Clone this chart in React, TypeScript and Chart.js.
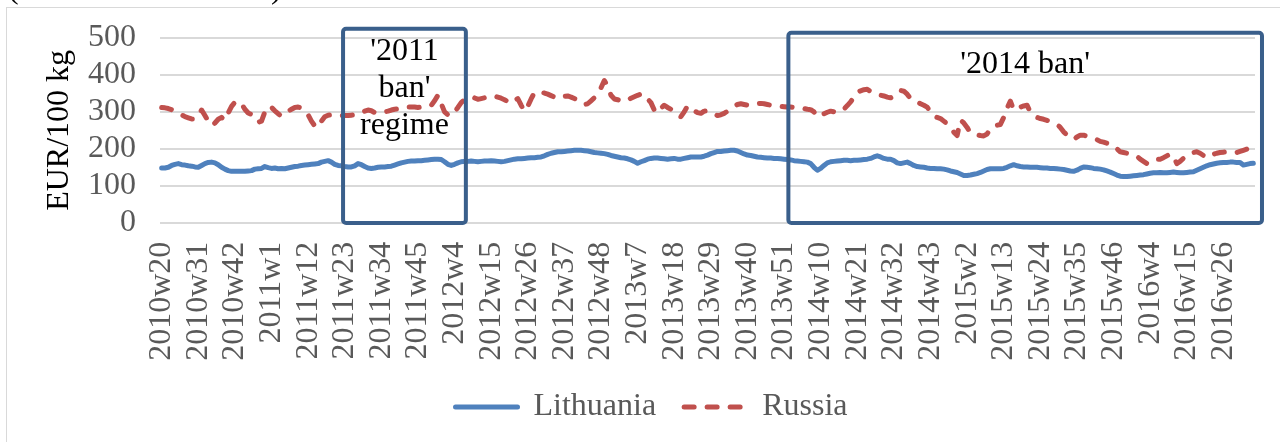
import React, { useEffect, useRef } from 'react';
import { Chart, registerables } from 'chart.js';

Chart.register(...registerables);

const FONT = "'Liberation Serif', 'Times New Roman', serif";

// ---- data ----
const startYear = 2010;
const startWeek = 20;
const weeksPerYear: Record<number, number> = { 2010: 52, 2011: 52, 2012: 52, 2013: 52, 2014: 52, 2015: 53, 2016: 52 };
const tickEvery = 11;

const lithuania = [
  148, 148, 150, 155, 158, 160, 157, 156, 154, 153,
  151, 150, 155, 160, 163, 164, 162, 157, 150, 145,
  141, 139, 139, 139, 139, 139, 140, 141, 145, 146,
  147, 152, 149, 147, 148, 146, 147, 146, 148, 150,
  152, 153, 155, 156, 157, 158, 159, 160, 164, 166,
  168, 164, 158, 155, 154, 152, 151, 151, 154, 160,
  157, 152, 148, 147, 148, 150, 151, 151, 152, 153,
  156, 159, 162, 164, 166, 167, 167, 168, 168, 169,
  170, 171, 172, 172, 171, 165, 158, 155, 158, 162,
  165, 166, 166, 167, 166, 165, 166, 167, 167, 168,
  167, 166, 165, 166, 168, 170, 172, 173, 173, 174,
  175, 176, 176, 177, 178, 181, 185, 188, 190, 192,
  192, 193, 194, 195, 196, 196, 196, 195, 194, 192,
  190, 189, 188, 187, 185, 182, 180, 178, 176, 175,
  173, 170, 166, 161, 165, 168, 172, 174, 175, 175,
  174, 173, 172, 173, 174, 172, 172, 174, 176, 178,
  178, 178, 178, 180, 183, 187, 190, 193, 193, 194,
  195, 196, 196, 194, 190, 186, 183, 182, 180, 178,
  177, 176, 175, 175, 174, 174, 173, 172, 171, 170,
  168, 167, 166, 165, 164, 160, 150, 142, 147, 155,
  162, 165, 166, 167, 168, 169, 169, 168, 169, 169,
  170, 171, 172, 174, 178, 181, 178, 174, 172, 172,
  168, 162, 160, 162, 164, 160, 155, 152, 151, 150,
  148, 147, 147, 146, 146, 145, 143, 140, 138, 136,
  132, 128, 128, 129, 131, 133, 136, 140, 144, 146,
  146, 146, 146, 147, 150, 154, 157, 154, 152, 151,
  151, 150, 150, 150, 149, 148, 148, 147, 147, 146,
  145, 144, 142, 140, 139, 142, 147, 151, 150, 149,
  147, 146, 145, 143, 140, 137, 133, 129, 126, 125,
  125, 126, 127, 128, 129, 130, 132, 134, 135, 135,
  136, 135, 135, 136, 137, 136, 135, 135, 136, 137,
  138, 142, 146, 150, 154, 157, 159, 161, 162, 163,
  163, 164, 164, 163, 163, 156, 158, 160, 161,
];

const russia = [
  312, 311, 309, 306, 302, 297, 292, 287, 284, 281,
  281, 292, 305, 290, 275, 263, 270, 280, 285, 277,
  297, 315, 326, 329, 322, 307, 297, 293, 287, 272,
  275, 300, 315, 312, 303, 295, 288, 295, 302, 307,
  312, 313, 310, 303, 292, 275, 262, 258, 275, 287,
  291, 292, 291, 291, 290, 290, 290, 291, 292, 296,
  298, 302, 305, 303, 298, 297, 298, 300, 302, 305,
  307, 308, 310, 312, 313, 313, 313, 312, 313, 314,
  316, 318, 330, 345, 322, 300, 292, 289, 300, 312,
  325, 333, 337, 340, 338, 334, 336, 338, 341, 343,
  343, 340, 337, 333, 328, 323, 330, 336, 318, 302,
  315, 335, 352, 355, 353, 351, 348, 344, 340, 336,
  338, 342, 343, 340, 336, 332, 327, 320, 322, 330,
  338, 348, 365, 385, 370, 345, 335, 333, 330, 328,
  332, 337, 341, 345, 348, 348, 335, 325, 305, 297,
  310, 318, 312, 307, 300, 290, 287, 300, 316, 310,
  303, 298, 296, 302, 303, 300, 295, 290, 292, 296,
  302, 308, 315, 320, 322, 320, 318, 318, 320, 322,
  323, 322, 320, 318, 317, 316, 315, 314, 313, 313,
  312, 312, 311, 309, 307, 306, 300, 287, 290, 295,
  299, 302, 300, 300, 300, 308, 317, 327, 340, 354,
  357, 360, 361, 355, 350, 347, 345, 343, 340, 338,
  342, 350, 358, 356, 348, 336, 330, 327, 322, 318,
  313, 300, 288, 285, 282, 275, 268, 258, 245, 236,
  278, 270, 258, 243, 240, 238, 236, 235, 240, 255,
  262, 264, 266, 285, 310, 329, 305, 309, 313, 316,
  318, 300, 292, 285, 282, 280, 277, 274, 270, 266,
  258, 246, 238, 230, 225, 232, 237, 237, 234, 231,
  229, 225, 220, 218, 215, 212, 210, 200, 192, 190,
  188, 186, 184, 180, 172, 166, 160, 165, 170, 172,
  172, 176, 181, 186, 180, 160, 166, 174, 182, 188,
  190, 192, 188, 182, 176, 180, 185, 188, 190, 191,
  192, 192, 190, 190, 193, 196, 199, 203, 206,
];

const seriesNames = ['Lithuania', 'Russia'];
const seriesColors = ['#4f81bd', '#c0504d'];

const banPeriods = [
  { startIndex: 54.5, endIndex: 91.4, topValue: 525, bottomValue: -1, textValue: 441, lines: ["'2011", "ban'", 'regime'] },
  { startIndex: 188.3, endIndex: 330.6, topValue: 514, bottomValue: -1, textValue: 406, lines: ["'2014 ban'"] },
];

function buildWeeks(year: number, week: number, count: number): string[] {
  const out: string[] = [];
  let y = year;
  let w = week;
  for (let k = 0; k < count; k++) {
    out.push(`${y}w${w}`);
    w++;
    if (w > (weeksPerYear[y] || 52)) {
      y++;
      w = 1;
    }
  }
  return out;
}

const categories = buildWeeks(startYear, startWeek, lithuania.length);

const decorPlugin = {
  id: 'decor',
  beforeDraw(chart: any) {
    const ctx = chart.ctx;
    ctx.save();
    ctx.strokeStyle = '#d9d9d9';
    ctx.lineWidth = 1;
    ctx.strokeRect(6.5, 7.5, 1400, 600);
    ctx.fillStyle = '#000';
    ctx.font = `32px ${FONT}`;
    ctx.textAlign = 'left';
    ctx.textBaseline = 'alphabetic';
    ctx.fillText('(', 8, -2);
    ctx.fillText(')', 271, -2);
    ctx.restore();
  },
  afterDatasetsDraw(chart: any) {
    const { ctx, scales } = chart;
    const xs = scales.x;
    const ys = scales.y;
    ctx.save();
    for (const b of banPeriods) {
      const l = xs.getPixelForValue(b.startIndex);
      const r = xs.getPixelForValue(b.endIndex);
      const t = ys.getPixelForValue(b.topValue);
      const bt = ys.getPixelForValue(b.bottomValue);
      ctx.strokeStyle = '#3a5f8b';
      ctx.lineWidth = 4;
      ctx.beginPath();
      if (ctx.roundRect) ctx.roundRect(l, t, r - l, bt - t, 3);
      else ctx.rect(l, t, r - l, bt - t);
      ctx.stroke();
      ctx.fillStyle = '#000';
      ctx.font = `32px ${FONT}`;
      ctx.textAlign = 'center';
      ctx.textBaseline = 'alphabetic';
      const base = ys.getPixelForValue(b.textValue);
      b.lines.forEach((line, k) => {
        ctx.fillText(line, (l + r) / 2, base + k * 37);
      });
    }
    ctx.restore();
  },
};

export default function App() {
  const ref = useRef<HTMLCanvasElement>(null);
  useEffect(() => {
    if (!ref.current) return;
    const font = { family: FONT, size: 32 };
    const chart = new Chart(ref.current, {
      type: 'line',
      data: {
        labels: categories,
        datasets: [
          {
            label: seriesNames[0],
            data: lithuania,
            borderColor: seriesColors[0],
            backgroundColor: seriesColors[0],
            borderWidth: 5,
            pointRadius: 0,
            tension: 0,
            borderCapStyle: 'round',
            borderJoinStyle: 'round',
            fill: false,
          },
          {
            label: seriesNames[1],
            data: russia,
            borderColor: seriesColors[1],
            backgroundColor: seriesColors[1],
            borderWidth: 5,
            borderDash: [10, 13],
            pointRadius: 0,
            tension: 0,
            borderCapStyle: 'round',
            borderJoinStyle: 'round',
            fill: false,
          },
        ],
      },
      options: {
        responsive: false,
        animation: false,
        layout: { padding: { left: 48, right: 25, top: 38, bottom: 9 } },
        plugins: {
          tooltip: { enabled: false },
          legend: {
            position: 'bottom',
            labels: {
              usePointStyle: true,
              pointStyleWidth: 62,
              padding: 28,
              color: '#595959',
              font,
              generateLabels: (c: any) =>
                c.data.datasets.map((ds: any, i: number) => ({
                  text: ds.label,
                  fillStyle: ds.borderColor,
                  strokeStyle: ds.borderColor,
                  fontColor: '#595959',
                  lineWidth: 5,
                  lineDash: ds.borderDash || [],
                  lineCap: 'round',
                  pointStyle: 'line',
                  hidden: false,
                  datasetIndex: i,
                })),
            },
          },
        },
        scales: {
          x: {
            type: 'category',
            offset: true,
            grid: { display: false, drawTicks: false },
            border: { display: false },
            ticks: {
              autoSkip: false,
              minRotation: 90,
              maxRotation: 90,
              padding: 19,
              color: '#595959',
              font,
              callback: function (this: any, value: any, index: number) {
                return index % tickEvery === 0 ? categories[index] : '';
              },
            },
            afterFit: (s: any) => {
              s.height = 140.3;
              s.paddingLeft = 0;
              s.paddingRight = 0;
            },
          },
          y: {
            min: 0,
            max: 500,
            ticks: { stepSize: 100, autoSkip: false, padding: 24, color: '#595959', font },
            grid: { color: '#d9d9d9', lineWidth: 2, drawTicks: false },
            border: { display: false },
            title: {
              display: true,
              text: 'EUR/100 kg',
              color: '#000',
              font,
              padding: { top: -8, bottom: 0 },
            },
            afterFit: (s: any) => {
              s.width = 112;
              s.paddingTop = 0;
              s.paddingBottom = 0;
            },
          },
        },
      },
      plugins: [decorPlugin],
    } as any);
    return () => chart.destroy();
  }, []);
  return (
    <div style={{ position: 'absolute', left: 0, top: 0, width: 1280, height: 442 }}>
      <canvas ref={ref} width={1280} height={442} style={{ display: 'block', width: 1280, height: 442 }} />
    </div>
  );
}
